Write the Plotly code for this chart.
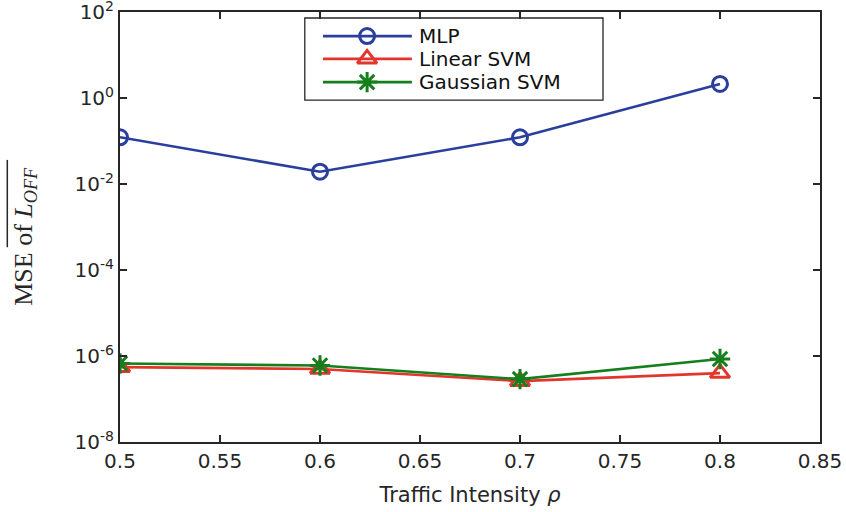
import plotly.graph_objects as go

x_vals = [0.5, 0.6, 0.7, 0.8]
mlp = [0.122, 0.0193, 0.122, 2.12]
linear_svm = [5.5e-7, 5.0e-7, 2.6e-7, 4.0e-7]
gaussian_svm = [6.7e-7, 6.0e-7, 2.9e-7, 8.5e-7]

series_names = ["MLP", "Linear SVM", "Gaussian SVM"]
series_colors = ["#2a3f9d", "#e2362c", "#157f1d"]
series_symbols = ["circle-open", "triangle-up-open", "asterisk-open"]
series_sizes = [15, 17, 17]

x_ticks = [0.5, 0.55, 0.6, 0.65, 0.7, 0.75, 0.8, 0.85]
x_ticklabels = ["0.5", "0.55", "0.6", "0.65", "0.7", "0.75", "0.8", "0.85"]
y_ticks = [1e-8, 1e-6, 1e-4, 1e-2, 1e0, 1e2]
y_ticklabels = ["10<sup>-8</sup>", "10<sup>-6</sup>", "10<sup>-4</sup>", "10<sup>-2</sup>", "10<sup>0</sup>", "10<sup>2</sup>"]

FONT = "DejaVu Sans, Liberation Sans, Arial"
AXC = "#262626"

fig = go.Figure()
for name, ys, col, sym, sz in zip(series_names, [mlp, linear_svm, gaussian_svm],
                                  series_colors, series_symbols, series_sizes):
    fig.add_trace(go.Scatter(x=x_vals, y=ys, name=name, mode="lines+markers", showlegend=False,
                             line=dict(color=col, width=2.6),
                             marker=dict(symbol=sym, size=sz, color=col, line=dict(width=3, color=col))))

# manual legend (MATLAB-style long line samples) on an overlay unit axis
leg_x0, leg_x1, leg_xm, leg_text_x = 0.290, 0.417, 0.353, 0.424
leg_rows = [0.944, 0.891, 0.837]
fig.add_shape(type="rect", xref="paper", yref="paper", x0=0.264, x1=0.690, y0=0.795, y1=0.986,
              line=dict(color=AXC, width=1.3), fillcolor="white", layer="below")
for name, col, sym, sz, ry in zip(series_names, series_colors, series_symbols, series_sizes, leg_rows):
    fig.add_trace(go.Scatter(x=[leg_x0, leg_x1], y=[ry, ry], mode="lines", showlegend=False,
                             xaxis="x2", yaxis="y2", hoverinfo="skip",
                             line=dict(color=col, width=2.6)))
    fig.add_trace(go.Scatter(x=[leg_xm], y=[ry], mode="markers", showlegend=False,
                             xaxis="x2", yaxis="y2", hoverinfo="skip",
                             marker=dict(symbol=sym, size=sz, color=col, line=dict(width=3, color=col))))
    fig.add_annotation(xref="paper", yref="paper", x=leg_text_x, y=ry, xanchor="left", yanchor="middle",
                       text=name, showarrow=False, font=dict(family=FONT, size=20, color="#111111"))

axis_common = dict(showline=True, linecolor=AXC, linewidth=2, mirror="ticks",
                   ticks="inside", tickcolor=AXC, tickwidth=2, ticklen=7,
                   showgrid=False, zeroline=False, automargin=False,
                   ticklabeloverflow="allow",
                   tickfont=dict(family=FONT, size=20, color=AXC))

fig.update_layout(
    xaxis=dict(range=[0.5, 0.85], tickvals=x_ticks, ticktext=x_ticklabels,
               title=dict(text="Traffic Intensity <i>ρ</i>", font=dict(family=FONT, size=21, color=AXC), standoff=15),
               **axis_common),
    yaxis=dict(type="log", range=[-8, 2], tickvals=y_ticks, ticktext=y_ticklabels, **axis_common),
    xaxis2=dict(overlaying="x", range=[0, 1], visible=False, fixedrange=True),
    yaxis2=dict(overlaying="y", range=[0, 1], visible=False, fixedrange=True),
)

fig.add_annotation(xref="paper", yref="paper", x=-0.136, y=0.479, xanchor="center", yanchor="middle",
                   text="MSE of <i>L</i><sub><i>OFF</i></sub>", textangle=-90, showarrow=False,
                   font=dict(family="Liberation Serif, DejaVu Serif", size=26, color=AXC))
fig.add_shape(type="line", xref="paper", yref="paper", x0=-0.161, x1=-0.161, y0=0.453, y1=0.656,
              line=dict(color=AXC, width=1.5))

fig.update_layout(
    width=846, height=512,
    margin=dict(l=120, r=26, t=12, b=70),
    paper_bgcolor="white", plot_bgcolor="white",
    showlegend=False,
)

fig.write_html("out.html", config={"displayModeBar": False},
               post_script="document.body.style.margin='0';")
